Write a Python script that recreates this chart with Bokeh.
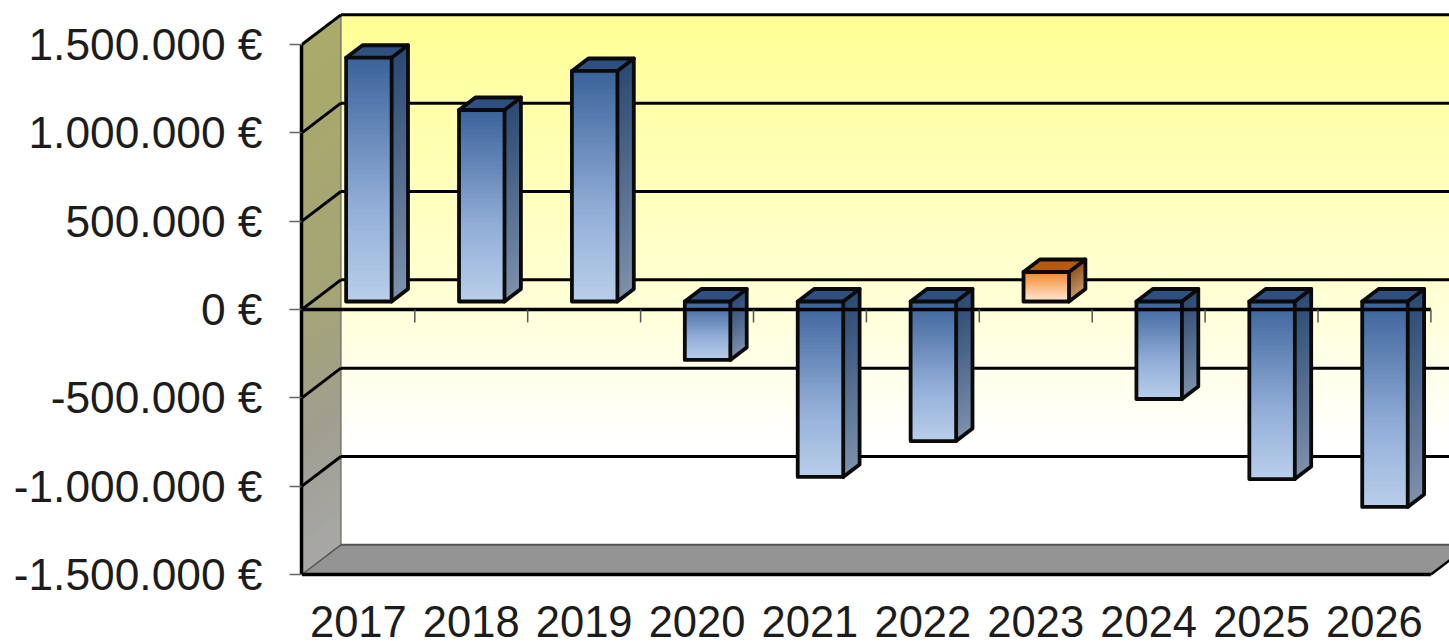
from bokeh.plotting import figure
from bokeh.embed import file_html
from bokeh.resources import INLINE
from bokeh.models import Range1d, FixedTicker

years = ["2017", "2018", "2019", "2020", "2021", "2022", "2023", "2024", "2025", "2026"]
values = [1380000, 1084000, 1305000, -331000, -993000, -790000, 167000, -552000, -1005000, -1163000]
y_ticks = [-1500000, -1000000, -500000, 0, 500000, 1000000, 1500000]
y_labels = ["-1.500.000 €", "-1.000.000 €", "-500.000 €", "0 €", "500.000 €", "1.000.000 €", "1.500.000 €"]

# 3D projection: how far the back wall is shifted from the front plane, in data units
DX = 39 / 112.9
DY = 168000
D_FRONT, D_BACK = 0.27, 0.69
BAR_W = 0.403
LEFT = -0.5
LAST = len(years) - 0.5
Y_MIN, Y_MAX = y_ticks[0], y_ticks[-1]
NB = 48


def lerp_stops(stops, t):
    t = max(0.0, min(1.0, t))
    for (t0, c0), (t1, c1) in zip(stops, stops[1:]):
        if t <= t1:
            f = (t - t0) / (t1 - t0) if t1 > t0 else 0
            return "#%02x%02x%02x" % tuple(round(a + (b - a) * f) for a, b in zip(c0, c1))
    return "#%02x%02x%02x" % stops[-1][1]


WALL_BACK = [(0, (255, 255, 150)), (0.5, (255, 255, 210)), (0.8, (255, 255, 255)), (1, (255, 255, 255))]
WALL_LEFT = [(0, (170, 170, 106)), (0.5, (165, 164, 118)), (0.75, (160, 159, 145)), (1, (168, 168, 168))]
BLUE_FRONT = [(0, (60, 100, 155)), (0.6, (146, 174, 216)), (1, (186, 207, 234))]
BLUE_SIDE = [(0, (44, 74, 116)), (1, (126, 145, 172))]
BLUE_TOP = "#2f4f80"
ORANGE_FRONT = [(0, (242, 136, 44)), (1, (255, 236, 218))]
ORANGE_SIDE = [(0, (150, 84, 28)), (1, (196, 152, 110))]
ORANGE_TOP = "#b55a10"

p = figure(width=1449, height=644, output_backend="svg", toolbar_location=None,
           x_range=Range1d(-0.5035, -0.5035 + 1148 / 112.9),
           y_range=Range1d(-1522699, 1749123),
           min_border_left=301, min_border_right=0, min_border_top=0, min_border_bottom=66)
p.grid.visible = False
p.outline_line_color = None
p.background_fill_color = "white"

# back wall gradient
bx0, bx1 = LEFT + DX, LAST + DX + 1
ty = Y_MAX + DY
by = Y_MIN + DY
cols = [lerp_stops(WALL_BACK, i / NB) for i in range(NB)]
p.quad(left=[bx0] * NB, right=[bx1] * NB, top=[ty + (by - ty) * i / NB for i in range(NB)],
       bottom=[by] * NB, fill_color=cols, line_color=None)

# left wall gradient
xs, ys, cols = [], [], []
for i in range(NB):
    y = Y_MAX + (Y_MIN - Y_MAX) * i / NB
    xs.append([LEFT, LEFT + DX, LEFT + DX, LEFT])
    ys.append([y, y + DY, Y_MIN + DY, Y_MIN])
    cols.append(lerp_stops(WALL_LEFT, i / NB))
p.patches(xs, ys, fill_color=cols, line_color=None)
p.line([LEFT + DX, LEFT + DX], [Y_MAX + DY, Y_MIN + DY], line_color="#77776c", line_width=1.5)

# floor
p.patch([LEFT, LEFT + DX, LAST + DX + 1, LAST + DX, LAST],
        [Y_MIN, Y_MIN + DY, Y_MIN + DY, Y_MIN + DY, Y_MIN],
        fill_color="#949494", line_color=None)
p.line([LEFT, LEFT + DX], [Y_MIN, Y_MIN + DY], line_color="#555555", line_width=1.5)
p.line([LEFT + DX, bx1], [Y_MIN + DY, Y_MIN + DY], line_color="#555555", line_width=2)
p.line([LAST, LAST + DX], [Y_MIN, Y_MIN + DY], line_color="black", line_width=2.5)
p.line([LEFT, LAST], [Y_MIN, Y_MIN], line_color="black", line_width=3.5)

# grid on back wall and left wall
grid_vals = y_ticks[1:]
p.segment([LEFT] * len(grid_vals), grid_vals, [LEFT + DX] * len(grid_vals), [v + DY for v in grid_vals],
          line_color="black", line_width=3)
p.segment([LEFT + DX] * len(grid_vals), [v + DY for v in grid_vals],
          [bx1] * len(grid_vals), [v + DY for v in grid_vals], line_color="black", line_width=3)

# bars
base = DY * D_FRONT
for i, v in enumerate(values):
    x0 = i + DX * D_FRONT - BAR_W / 2
    x1 = x0 + BAR_W
    top = base + max(v, 0)
    bot = base + min(v, 0)
    ddx = DX * (D_BACK - D_FRONT)
    ddy = DY * (D_BACK - D_FRONT)
    orange = v > 0 and v < 500000
    fr, si, tp = (ORANGE_FRONT, ORANGE_SIDE, ORANGE_TOP) if orange else (BLUE_FRONT, BLUE_SIDE, BLUE_TOP)
    # front gradient
    p.quad(left=[x0] * NB, right=[x1] * NB, top=[top + (bot - top) * k / NB for k in range(NB)],
           bottom=[bot] * NB, fill_color=[lerp_stops(fr, k / NB) for k in range(NB)], line_color=None)
    # side gradient
    sx, sy, sc = [], [], []
    for k in range(NB):
        y = top + (bot - top) * k / NB
        sx.append([x1, x1 + ddx, x1 + ddx, x1])
        sy.append([y, y + ddy, bot + ddy, bot])
        sc.append(lerp_stops(si, k / NB))
    p.patches(sx, sy, fill_color=sc, line_color=None)
    # top face
    p.patch([x0, x0 + ddx, x1 + ddx, x1], [top, top + ddy, top + ddy, top], fill_color=tp, line_color=None)
    # outlines
    p.multi_line(
        [[x0, x1, x1, x0, x0], [x1, x1 + ddx, x1 + ddx, x1], [x0, x0 + ddx, x1 + ddx]],
        [[top, top, bot, bot, top], [top, top + ddy, bot + ddy, bot], [top, top + ddy, top + ddy]],
        line_color="#0a0a0a", line_width=3.8, line_join="round", line_cap="round")

# zero line with its tick marks
p.line([LEFT, LAST], [0, 0], line_color="black", line_width=3.4)
tick_x = [i + 0.5 for i in range(len(years))]
p.segment(tick_x, [0] * len(tick_x), tick_x, [-73000] * len(tick_x), line_color="#555555", line_width=1.5)

# axes
ya = p.yaxis[0]
ya.ticker = FixedTicker(ticks=y_ticks)
ya.major_label_overrides = dict(zip(y_ticks, y_labels))
ya.bounds = (Y_MIN, Y_MAX)
ya.axis_line_color = "black"
ya.axis_line_width = 3.5
ya.major_tick_line_color = "#666666"
ya.major_tick_line_width = 1.5
ya.major_tick_in = 0
ya.major_tick_out = 12
ya.minor_tick_line_color = None
ya.major_label_standoff = 27
ya.major_label_text_font = "Liberation Sans"
ya.major_label_text_font_size = "44.3px"
ya.major_label_text_color = "#1c1c1c"
ya.major_label_text_line_height = 1.0

xa = p.xaxis[0]
xa.ticker = FixedTicker(ticks=list(range(len(years))))
xa.major_label_overrides = {i: y for i, y in enumerate(years)}
xa.axis_line_color = None
xa.major_tick_line_color = None
xa.minor_tick_line_color = None
xa.major_label_standoff = 21
xa.major_label_text_font = "Liberation Sans"
xa.major_label_text_font_size = "43.5px"
xa.major_label_text_color = "#1c1c1c"

open("out.html", "w").write(file_html(p, INLINE))
